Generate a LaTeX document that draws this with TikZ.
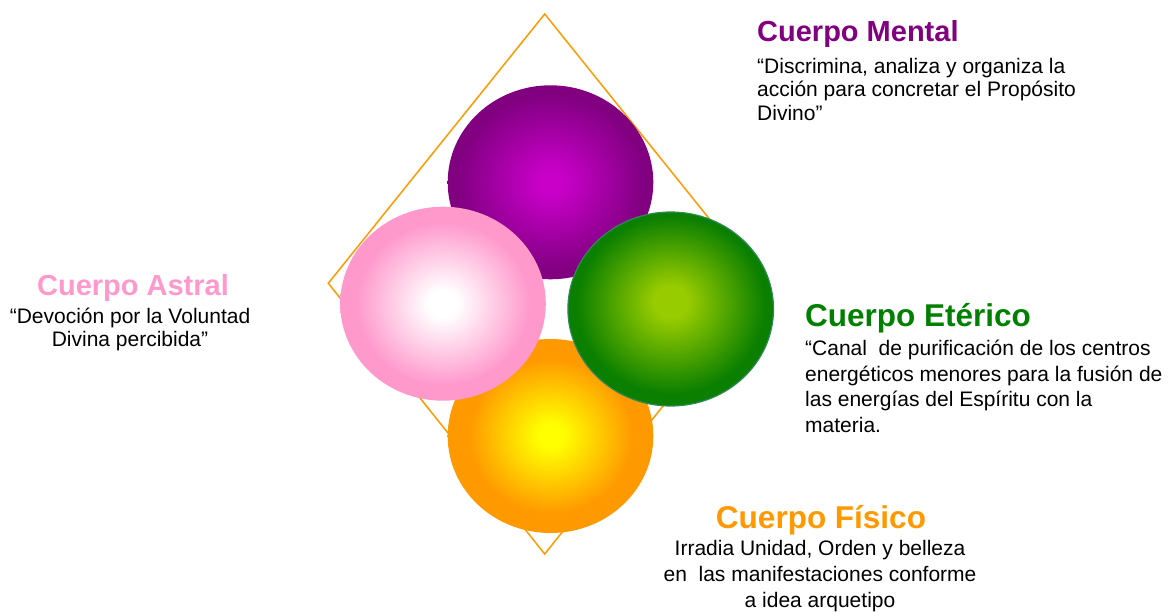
\documentclass[tikz,border=0pt]{standalone}
\usepackage{fontspec}
\setmainfont{Liberation Sans}
\usetikzlibrary{shapes.geometric}
\definecolor{mentalin}{HTML}{C800C8}
\definecolor{mentalout}{HTML}{800080}
\definecolor{astralin}{HTML}{FFFFFF}
\definecolor{astralout}{HTML}{FF99CC}
\definecolor{etericoin}{HTML}{99CC00}
\definecolor{etericoout}{HTML}{0A7F00}
\definecolor{fisicoin}{HTML}{FFFF00}
\definecolor{fisicoout}{HTML}{FF9900}
\definecolor{etericoline}{HTML}{2E8B57}
\definecolor{titlemental}{HTML}{800080}
\definecolor{titleastral}{HTML}{FF99CC}
\definecolor{titleeterico}{HTML}{008000}
\definecolor{titlefisico}{HTML}{FF9900}
\pgfdeclareradialshading{mentalshade}{\pgfpoint{0bp}{0bp}}{color(0bp)=(mentalin); color(3bp)=(mentalin); color(23bp)=(mentalout); color(50bp)=(mentalout)}
\pgfdeclareradialshading{astralshade}{\pgfpoint{0bp}{0bp}}{color(0bp)=(astralin); color(3.5bp)=(astralin); color(21bp)=(astralout); color(50bp)=(astralout)}
\pgfdeclareradialshading{etericoshade}{\pgfpoint{0bp}{2bp}}{color(0bp)=(etericoin); color(4bp)=(etericoin); color(23bp)=(etericoout); color(50bp)=(etericoout)}
\pgfdeclareradialshading{fisicoshade}{\pgfpoint{0bp}{0bp}}{color(0bp)=(fisicoin); color(3bp)=(fisicoin); color(20bp)=(fisicoout); color(50bp)=(fisicoout)}
\tikzset{
  ball/.style={ellipse, inner sep=0pt, minimum width=205.6pt, minimum height=194pt},
  ttl/.style={inner sep=0pt, font=\bfseries\fontsize{#1}{#1}\selectfont},
  body/.style={inner sep=0pt, text=black, font=\fontsize{21}{#1}\selectfont},
}
\begin{document}
\begin{tikzpicture}[x=1pt,y=-1pt]
\useasboundingbox (0,0) rectangle (1169,612);
% diamond
\coordinate (dT) at (544.7,14);
\coordinate (dL) at (328.3,283.3);
\coordinate (dB) at (544.7,554);
\coordinate (dR) at (761.1,283.3);
\draw[color=fisicoout, line width=1.5pt, line join=miter] (dT) -- (dL) -- (dB) -- (dR) -- cycle;
% balls
\node[ball, shading=mentalshade] (mental) at (550.5,182.3) {};
\node[ball, shading=fisicoshade] (fisico) at (550.5,436) {};
\node[ball, shading=astralshade] (astral) at (443,303.7) {};
\node[ball, shading=etericoshade, draw=etericoline, line width=1.2pt] (eterico) at (670.7,309) {};
% texts
\node[ttl=29, text=titlemental, anchor=base west] (tmental) at (757,41.7) {Cuerpo Mental};
\node[body=23.5, align=left, anchor=north west] (bmental) at (757,58) {“Discrimina, analiza y organiza la\\acción para concretar el Propósito\\Divino”};
\node[ttl=29, text=titleastral, anchor=base] (tastral) at (133,295) {Cuerpo Astral};
\node[body=22.5, align=center, anchor=north] (bastral) at (130,308) {“Devoción por la Voluntad\\Divina percibida”};
\node[ttl=31.5, text=titleeterico, anchor=base west] (teterico) at (805,326.7) {Cuerpo Etérico};
\node[body=25.5, align=left, anchor=north west] (beterico) at (805,340) {“Canal\ \ de purificación de los centros\\energéticos menores para la fusión de\\las energías del Espíritu con la\\materia.};
\node[ttl=31.5, text=titlefisico, anchor=base] (tfisico) at (821,528.3) {Cuerpo Físico};
\node[body=26, align=center, anchor=north] (bfisico) at (820,540) {Irradia Unidad, Orden y belleza\\en\ \ las manifestaciones conforme\\a idea arquetipo};
\end{tikzpicture}
\end{document}
